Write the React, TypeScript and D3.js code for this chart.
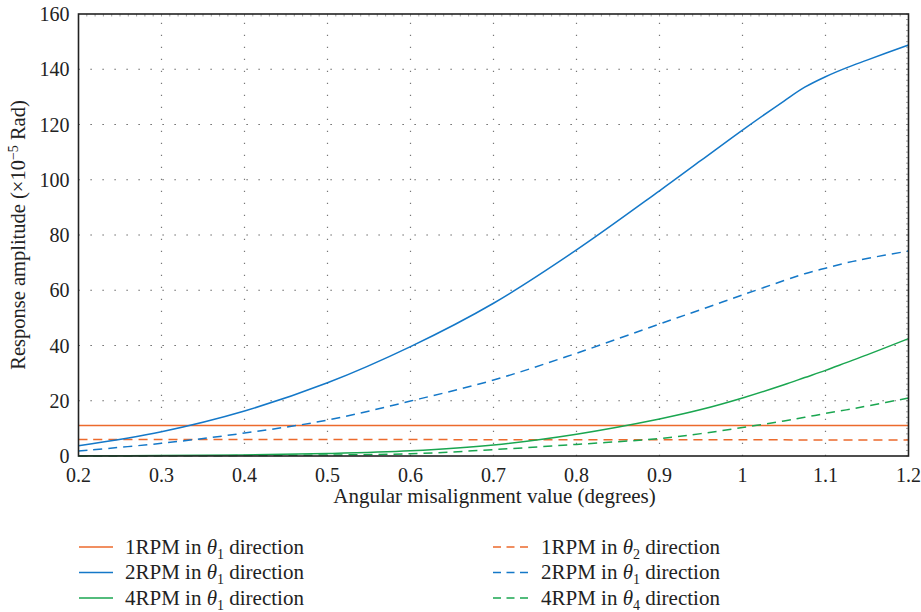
import React from "react";
import * as d3 from "d3";

// Angular misalignment (degrees) sampled for each response curve
const xs = [0.2, 0.3, 0.4, 0.5, 0.6, 0.7, 0.8, 0.9, 0.95, 1.0, 1.05, 1.075, 1.1, 1.125, 1.15, 1.2];

const rpm1Theta1 = [11, 11, 11, 11, 11, 11, 11, 11, 11, 11, 11, 11, 11, 11, 11, 11];
const rpm1Theta2 = [6.0, 6.0, 6.0, 5.95, 5.95, 5.9, 5.9, 5.9, 5.85, 5.85, 5.85, 5.8, 5.8, 5.8, 5.8, 5.8];
const rpm2Theta1 = [3.7, 8.8, 16.3, 26.5, 39.6, 55.3, 74.6, 96, 107, 118, 128.5, 133.5, 137.3, 140.5, 143.3, 148.8];
const rpm2Theta1Dash = [1.8, 4.6, 8.3, 13, 19.9, 27.5, 37.2, 47.8, 53, 58.3, 63.5, 66, 68, 69.9, 71.5, 74.2];
const rpm4Theta1 = [0.05, 0.15, 0.4, 0.9, 1.9, 4.0, 7.9, 13.4, 16.8, 21, 25.8, 28.4, 31, 33.8, 36.6, 42.5];
const rpm4Theta4 = [0, 0.05, 0.15, 0.35, 0.8, 2.3, 4.2, 6.3, 8.1, 10.3, 12.7, 14, 15.4, 16.7, 18.1, 21];

const xTicks = [0.2, 0.3, 0.4, 0.5, 0.6, 0.7, 0.8, 0.9, 1, 1.1, 1.2];
const yTicks = [0, 20, 40, 60, 80, 100, 120, 140, 160];

const ORANGE = "#EC6A2C";
const BLUE = "#1478C8";
const GREEN = "#1AA650";

type Series = { rpm: string; sub: string; values: number[]; color: string; dashed: boolean };

const series: Series[] = [
  { rpm: "1RPM", sub: "1", values: rpm1Theta1, color: ORANGE, dashed: false },
  { rpm: "1RPM", sub: "2", values: rpm1Theta2, color: ORANGE, dashed: true },
  { rpm: "2RPM", sub: "1", values: rpm2Theta1, color: BLUE, dashed: false },
  { rpm: "2RPM", sub: "1", values: rpm2Theta1Dash, color: BLUE, dashed: true },
  { rpm: "4RPM", sub: "1", values: rpm4Theta1, color: GREEN, dashed: false },
  { rpm: "4RPM", sub: "4", values: rpm4Theta4, color: GREEN, dashed: true },
];

const W = 921;
const H = 612;
const L = 78.5;
const R = 908.5;
const T = 14;
const B = 456;
const FONT = "'Liberation Serif', 'DejaVu Serif', serif";
const DASH = "9 6";

export default function App() {
  const x = d3.scaleLinear().domain([0.2, 1.2]).range([L, R]);
  const y = d3.scaleLinear().domain([0, 160]).range([B, T]);

  const line = d3
    .line<number>()
    .x((_, i) => x(xs[i]))
    .y((d) => y(d))
    .curve(d3.curveCatmullRom.alpha(0.5));

  const minorX = d3.range(0.2, 1.2001, 0.01);
  const minorY = d3.range(0, 160.001, 2);

  const legendRows = [0, 1, 2];
  const legendY = (r: number) => 547 + r * 25.5;

  return (
    <svg width={W} height={H} style={{ display: "block", position: "absolute", left: 0, top: 0 }} fontFamily={FONT}>
      <rect width={W} height={H} fill="#fff" />

      {/* dotted grid */}
      <g stroke="#444" strokeWidth={1.2}>
        {yTicks.slice(1, -1).map((t) => (
          <line key={"gy" + t} x1={L} x2={R} y1={y(t)} y2={y(t)} strokeDasharray="1.2 10.8" />
        ))}
        {xTicks.slice(1, -1).map((t) => (
          <line key={"gx" + t} x1={x(t)} x2={x(t)} y1={B} y2={T} strokeDasharray="1.2 10.8" stroke="#777" />
        ))}
      </g>

      {/* minor ticks on top and right edges */}
      <g stroke="#888" strokeWidth={0.8}>
        {minorX.map((t, i) => (
          <line key={"mx" + i} x1={x(t)} x2={x(t)} y1={T} y2={T + 2.5} />
        ))}
        {minorY.map((t, i) => (
          <line key={"my" + i} x1={R} x2={R - 2.5} y1={y(t)} y2={y(t)} />
        ))}
      </g>

      {/* curves */}
      <g fill="none" strokeWidth={1.5}>
        {series.map((s, i) => (
          <path
            key={"s" + i}
            d={line(s.values) || ""}
            stroke={s.color}
            strokeDasharray={s.dashed ? DASH : undefined}
          />
        ))}
      </g>

      {/* frame */}
      <rect x={L} y={T} width={R - L} height={B - T} fill="none" stroke="#222" strokeWidth={1.6} />

      {/* tick labels */}
      <g fontSize={20} fill="#222">
        {yTicks.map((t) => (
          <text key={"yl" + t} x={L - 9} y={y(t)} dy="0.35em" textAnchor="end">
            {t}
          </text>
        ))}
        {xTicks.map((t) => (
          <text key={"xl" + t} x={x(t)} y={482} textAnchor="middle">
            {t}
          </text>
        ))}
      </g>

      {/* axis titles */}
      <text x={(L + R) / 2 + 1} y={503} textAnchor="middle" fontSize={21} fill="#222">
        Angular misalignment value (degrees)
      </text>
      <text transform={`translate(25, ${(T + B) / 2}) rotate(-90)`} textAnchor="middle" fontSize={20.5} fill="#222">
        Response amplitude (×10
        <tspan dy={-7} fontSize={14}>−5</tspan>
        <tspan dy={7}> Rad)</tspan>
      </text>

      {/* legend */}
      <g fontSize={21} fill="#222">
        {legendRows.map((r) => {
          const solid = series[r * 2];
          const dashed = series[r * 2 + 1];
          const yy = legendY(r);
          return (
            <g key={"lg" + r}>
              <line x1={79} x2={113} y1={yy} y2={yy} stroke={solid.color} strokeWidth={1.5} />
              <text x={125} y={yy} dy="0.33em">
                {solid.rpm} in <tspan fontStyle="italic">θ</tspan>
                <tspan dy={5} fontSize={14}>{solid.sub}</tspan>
                <tspan dy={-5}> direction</tspan>
              </text>
              <line x1={493} x2={528} y1={yy} y2={yy} stroke={dashed.color} strokeWidth={1.5} strokeDasharray="8 5.5" />
              <text x={541} y={yy} dy="0.33em">
                {dashed.rpm} in <tspan fontStyle="italic">θ</tspan>
                <tspan dy={5} fontSize={14}>{dashed.sub}</tspan>
                <tspan dy={-5}> direction</tspan>
              </text>
            </g>
          );
        })}
      </g>
    </svg>
  );
}
